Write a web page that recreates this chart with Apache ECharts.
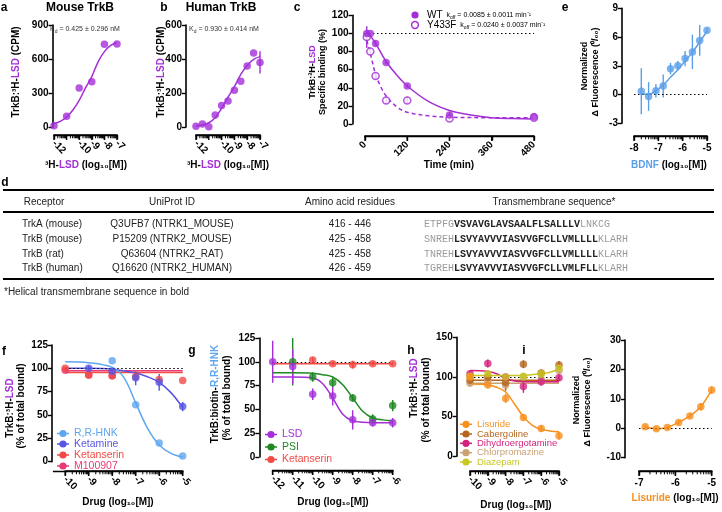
<!DOCTYPE html>
<html>
<head>
<meta charset="utf-8">
<script src="https://cdn.jsdelivr.net/npm/echarts@6/dist/echarts.min.js"></script>
<style>
html, body { margin: 0; padding: 0; background: #fff; }
#wrap { position: relative; width: 722px; height: 512px; }
#main, #axes { position: absolute; left: 0; top: 0; width: 722px; height: 512px; }
#axes { pointer-events: none; }
</style>
</head>
<body>
<div id="wrap"><div id="main"></div><div id="axes"></div></div>
<script>
// ---- data ----
// a: mouse TrkB saturation
var aX = [-12, -11, -10, -9, -8, -7];
var aY = [12, 94, 345, 400, 730, 732];
var aFitX = [-12, -11.5, -11, -10.5, -10, -9.5, -9, -8.5, -8, -7.5, -7];
var aFitY = [30, 50, 88, 150, 235, 345, 445, 575, 665, 720, 745];
// b: human TrkB saturation
var bX = [-12, -11.5, -11, -10.5, -10, -9.5, -9, -8.5, -8, -7.5, -7];
var bY = [4, 18, 2, 70, 126, 153, 216, 269, 359, 435, 380];
var bErr = [0, 0, 0, 0, 0, 0, 0, 0, 0, 0, 65];
var bFitY = [5, 12, 25, 55, 110, 175, 237, 310, 362, 398, 414];
// c: dissociation
var cT = [5, 15, 30, 60, 120, 240, 480];
var cWT = [100, 100, 89, 68, 42, 10, 8];
var cWTErr = [0, 0, 3, 2, 2, 3, 1];
var cMut = [96, 80, 53, 26, 26, 6, 7];
var cMutErr = [12, 4, 4, 4, 4, 2, 1];
var cWTFitT = [10, 30, 60, 90, 120, 180, 240, 300, 360, 420, 480];
var cWTFit = [100, 89, 69, 54, 42, 25, 15, 10, 7, 6, 5.5];
var cMutFitT = [0, 15, 30, 45, 60, 90, 120, 180, 240, 360, 480];
var cMutFit = [100, 78, 55, 41, 31, 19, 13, 9, 7.5, 7, 7];
// e: BDNF fluorescence
var eX = [-7.7, -7.4, -7.1, -6.8, -6.5, -6.2, -5.9, -5.6, -5.3, -5.0];
var eY = [0.35, -0.2, 0.4, 0.9, 2.7, 3.0, 3.75, 4.45, 5.65, 6.7];
var eErr = [2.4, 1.5, 0.7, 1.2, 0.6, 0.5, 0.8, 1.8, 1.6, 0.2];
var eFit = [0.1, 0.0, 0.4, 1.0, 1.8, 2.6, 3.5, 4.4, 5.5, 6.6];
// f: competition vs 3H-LSD
var fHnkX = [-8, -7, -6, -5];
var fHnk = [108, 61, 20, 6];
var fKetX = [-9, -8, -7, -6, -5];
var fKet = [100, 97, 90, 85, 59];
var fKetErr = [3, 3, 8, 9, 5];
var fKtsX = [-10, -9, -8, -7, -6, -5];
var fKts = [100, 93, 92, 91, 88, 87];
var fM1X = [-10, -9, -8];
var fM1 = [98, 93, 92];
var fHnkFitX = [-10, -9, -8, -7.5, -7, -6.5, -6, -5.5, -5];
var fHnkFit = [107, 106, 101, 90, 63, 36, 18, 9, 5];
var fKetFitX = [-10, -9, -8, -7, -6.5, -6, -5.5, -5];
var fKetFit = [100, 100, 99, 95, 91, 85, 74, 58];
var fFlatX = [-10, -5];
var fKtsFit = [95.5, 95.5];
var fM1Fit = [97.5, 97.5];
// g: competition vs biotin-R,R-HNK
var gLsdX = [-12, -11, -10, -9, -8, -7, -6];
var gLsd = [100, 95, 66, 64, 39, 36, 36];
var gLsdErr = [22, 18, 6, 10, 10, 4, 5];
var gPsiX = [-11, -10, -9, -8, -7, -6];
var gPsi = [100, 84, 78, 62, 40, 54];
var gPsiErr = [25, 5, 5, 4, 5, 6];
var gKtsX = [-10, -9, -8, -7, -6];
var gKts = [102, 98, 97, 98, 98];
var gKtsErr = [3, 2, 4, 2, 2];
var gFitX = [-12, -11, -10, -9.5, -9, -8.5, -8, -7.5, -7, -6.5, -6];
var gLsdFit = [84, 84, 83, 77, 62, 45, 38, 36.5, 36, 36, 36];
var gPsiFit = [88.5, 88.5, 88, 86.5, 84, 76, 62, 48, 41, 39, 38];
var gKtsFitX = [-12, -6];
var gKtsFit = [98, 98];
// h: ergolines and others vs 3H-LSD
var hX = [-10, -9, -8, -7, -6, -5];
var hLis = [100, 90, 73, 49, 35, 26];
var hLisErr = [5, 4, 6, 4, 4, 5];
var hCab = [96, 100, 93, 116, 105, 115];
var hCabErr = [4, 4, 10, 5, 4, 5];
var hDhe = [104, 117, 100, 88, 94, 99];
var hDheErr = [4, 5, 4, 8, 5, 4];
var hChl = [92, 95, 90, 100, 97, 108];
var hChlErr = [4, 4, 8, 4, 4, 4];
var hDia = [101, 104, 100, 101, 104, 111];
var hDiaErr = [3, 4, 4, 4, 4, 4];
var hFitX = [-10, -9, -8.5, -8, -7.5, -7, -6.5, -6, -5.5, -5];
var hLisFit = [91, 90, 87, 81, 66, 50, 39, 34, 32, 31];
var hCabFit = [96, 96, 96, 96, 96, 96, 96, 96, 96, 96];
var hDheFit = [108, 107, 104, 98, 95, 94, 94, 94, 94, 94];
var hChlFit = [92, 92, 92, 92, 92, 92, 92, 92, 92, 92];
var hDiaFit = [102, 102, 102, 102, 102, 102, 103, 104, 106, 110];
// i: lisuride fluorescence
var iX = [-6.83, -6.52, -6.22, -5.91, -5.6, -5.3, -5.0];
var iY = [0.5, -0.2, 0.3, 2.0, 4.2, 7.3, 13.0];
var iErr = [0.8, 0.6, 0.5, 0.8, 0.8, 1.3, 1.3];
// d: table
var tblHead = ['Receptor', 'UniProt ID', 'Amino acid residues', 'Transmembrane sequence*'];
var tblReceptor = ['TrkA (mouse)', 'TrkB (mouse)', 'TrkB (rat)', 'TrkB (human)'];
var tblUniprot = ['Q3UFB7 (NTRK1_MOUSE)', 'P15209 (NTRK2_MOUSE)', 'Q63604 (NTRK2_RAT)', 'Q16620 (NTRK2_HUMAN)'];
var tblResidues = ['416 - 446', '425 - 458', '425 - 458', '426 - 459'];
var tblSeqPre = ['ETPFG', 'SNREH', 'TNREH', 'TGREH'];
var tblSeqCore = ['VSVAVGLAVSAALFLSALLLV', 'LSVYAVVVIASVVGFCLLVMLLLL', 'LSVYAVVVIASVVGFCLLVMLLLL', 'LSVYAVVVIASVVGFCLLVMLFLL'];
var tblSeqPost = ['LNKCG', 'KLARH', 'KLARH', 'KLARH'];

// ---- colours ----
var PURPLE = '#a42fd8', BLUE = '#5b9fe9', HNK = '#5ea6f0', KET = '#5656e3', KTS = '#f24a45', M1 = '#e83a78';
var GREEN = '#1f8a22', ORANGE = '#f7901e', CAB = '#b5651d', DHE = '#d3237f', CHL = '#c9a173', DIA = '#c8c824';
var FONT = 'Liberation Sans, Arial, sans-serif';

var chart = echarts.init(document.getElementById('main'), null, {renderer: 'canvas'});
var axesChart = echarts.init(document.getElementById('axes'), null, {renderer: 'canvas'});

function pairs(xs, ys) { return xs.map(function (x, i) { return [x, ys[i]]; }); }
function triples(xs, ys, es) { return xs.map(function (x, i) { return [x, ys[i], es[i]]; }); }
function logMinors(from, to) {
    var out = [];
    for (var d = from; d < to; d++) for (var k = 2; k <= 9; k++) out.push(d + Math.log10(k));
    return out;
}

// grids: [left, top, width, height]
var grids = [
    [54, 25, 63, 102],         // a
    [196, 25, 64, 102],        // b
    [365, 15.3, 169, 108.7],   // c
    [634, 8.3, 73, 115],       // e
    [65.2, 345, 117.5, 116.7], // f
    [272.7, 338, 120, 119],    // g
    [470, 337.3, 89, 119],     // h
    [639, 340, 72.7, 117.7]    // i
];
// x axes: ticks counted from min, min is a multiple of interval
var xCfg = [
    {min: -12, max: -7, interval: 1, minors: logMinors(-12, -7), off: 8, rot: -45, ext: 0},
    {min: -12, max: -7, interval: 1, minors: logMinors(-12, -7), off: 8, rot: -45, ext: 0},
    {min: 0, max: 480, interval: 120, minors: [], off: 12, rot: 45, ext: 0},
    {min: -8, max: -5, interval: 1, minors: logMinors(-8, -5), off: 12.7, rot: 0, ext: 0},
    {min: -10, max: -5, interval: 1, minors: logMinors(-10, -5), off: 9.3, rot: -45, ext: 11.5},
    {min: -12, max: -6, interval: 1, minors: logMinors(-12, -6), off: 13.3, rot: -45, ext: 0},
    {min: -10, max: -5, interval: 1, minors: logMinors(-10, -5), off: 14.7, rot: -45, ext: 0},
    {min: -7, max: -5, interval: 1, minors: logMinors(-7, -5), off: 13.3, rot: 0, ext: 0}
];
var yCfg = [
    {min: 0, max: 900, interval: 300, off: 1.5},
    {min: 0, max: 600, interval: 200, off: 10},
    {min: 0, max: 120, interval: 20, off: 12.5},
    {min: -3, max: 9, interval: 3, off: 12},
    {min: 0, max: 125, interval: 25, off: 13.2},
    {min: 0, max: 125, interval: 25, off: 13.4},
    {min: 0, max: 150, interval: 50, off: 13.3},
    {min: -10, max: 30, interval: 10, off: 14}
];

var gridOpt = [], xAxes = [], yAxes = [];
grids.forEach(function (g, i) {
    gridOpt.push({left: g[0], top: g[1], width: g[2], height: g[3]});
    var c = xCfg[i];
    xAxes.push({
        gridIndex: i, type: 'value', position: 'bottom', min: c.min, max: c.max, interval: c.interval, offset: c.off,
        axisLine: {show: true, onZero: false, lineStyle: {color: '#000', width: 1.6}},
        axisTick: {show: true, length: 4.5, lineStyle: {color: '#000', width: 1.4}},
        axisLabel: {rotate: c.rot, margin: 7, fontSize: 10, fontWeight: 'bold', color: '#000', fontFamily: FONT,
            showMinLabel: true, showMaxLabel: true},
        splitLine: {show: false}
    });
    var y = yCfg[i];
    yAxes.push({
        gridIndex: i, type: 'value', position: 'left', min: y.min, max: y.max, interval: y.interval, offset: y.off,
        axisLine: {show: true, onZero: false, lineStyle: {color: '#000', width: 1.6}},
        axisTick: {show: true, length: 4, lineStyle: {color: '#000', width: 1.4}},
        axisLabel: {margin: 4, fontSize: 10, fontWeight: 'bold', color: '#000', fontFamily: FONT},
        splitLine: {show: false}
    });
});

var series = [];
function scatter(p, data, color, opts) {
    opts = opts || {};
    series.push({
        type: 'scatter', xAxisIndex: p, yAxisIndex: p, data: data, z: 5,
        symbol: 'circle', symbolSize: opts.size || 7.5,
        itemStyle: opts.hollow ? {color: '#fff', borderColor: color, borderWidth: 1.6} : {color: color},
        silent: true
    });
}
function errBars(p, data, color) {
    series.push({
        type: 'custom', xAxisIndex: p, yAxisIndex: p, data: data, z: 3, silent: true,
        renderItem: function (params, api) {
            var x = api.value(0), y = api.value(1), e = api.value(2);
            if (!e) return null;
            var p1 = api.coord([x, y - e]), p2 = api.coord([x, y + e]);
            return {type: 'line', shape: {x1: p1[0], y1: p1[1], x2: p2[0], y2: p2[1]},
                style: {stroke: color, lineWidth: 1.4}};
        }
    });
}
function curve(p, data, color, opts) {
    opts = opts || {};
    var s = {
        type: 'line', xAxisIndex: p, yAxisIndex: p, data: data, z: 4, silent: true,
        smooth: opts.smooth === undefined ? 0.35 : opts.smooth, showSymbol: false,
        lineStyle: {color: color, width: 1.5, type: opts.dash ? [4, 3] : 'solid'}
    };
    if (opts.ref !== undefined) {
        s.markLine = {silent: true, symbol: 'none', label: {show: false},
            lineStyle: {color: '#000', width: 1.2, type: [1.5, 2.5]}, data: [{yAxis: opts.ref}]};
    }
    series.push(s);
}

// a
curve(0, pairs(aFitX, aFitY), PURPLE);
scatter(0, pairs(aX, aY), PURPLE);
// b
curve(1, pairs(bX, bFitY), PURPLE);
errBars(1, triples(bX, bY, bErr), PURPLE);
scatter(1, pairs(bX, bY), PURPLE);
// c
curve(2, pairs(cWTFitT, cWTFit), PURPLE, {ref: 100});
curve(2, pairs(cMutFitT, cMutFit), PURPLE, {dash: true});
errBars(2, triples(cT, cWT, cWTErr), PURPLE);
errBars(2, triples(cT, cMut, cMutErr), PURPLE);
scatter(2, pairs(cT, cMut), PURPLE, {hollow: true, size: 7});
scatter(2, pairs(cT, cWT), PURPLE);
// e
curve(3, pairs(eX, eFit), BLUE, {ref: 0});
errBars(3, triples(eX, eY, eErr), BLUE);
scatter(3, pairs(eX, eY), BLUE);
// f
curve(4, pairs(fFlatX, fM1Fit), M1, {ref: 100, smooth: false});
curve(4, pairs(fFlatX, fKtsFit), KTS, {smooth: false});
curve(4, pairs(fKetFitX, fKetFit), KET);
curve(4, pairs(fHnkFitX, fHnkFit), HNK);
errBars(4, triples(fKetX, fKet, fKetErr), KET);
scatter(4, pairs(fM1X, fM1), M1);
scatter(4, pairs(fKtsX, fKts), KTS);
scatter(4, pairs(fKetX, fKet), KET);
scatter(4, pairs(fHnkX, fHnk), HNK);
// g
curve(5, pairs(gKtsFitX, gKtsFit), KTS, {ref: 100, smooth: false});
curve(5, pairs(gFitX, gPsiFit), GREEN);
curve(5, pairs(gFitX, gLsdFit), PURPLE);
errBars(5, triples(gKtsX, gKts, gKtsErr), KTS);
errBars(5, triples(gPsiX, gPsi, gPsiErr), GREEN);
errBars(5, triples(gLsdX, gLsd, gLsdErr), PURPLE);
scatter(5, pairs(gKtsX, gKts), KTS);
scatter(5, pairs(gPsiX, gPsi), GREEN);
scatter(5, pairs(gLsdX, gLsd), PURPLE);
// h
curve(6, pairs(hFitX, hChlFit), CHL, {ref: 100});
curve(6, pairs(hFitX, hCabFit), CAB);
curve(6, pairs(hFitX, hDheFit), DHE);
curve(6, pairs(hFitX, hDiaFit), DIA);
curve(6, pairs(hFitX, hLisFit), ORANGE);
errBars(6, triples(hX, hChl, hChlErr), CHL);
errBars(6, triples(hX, hCab, hCabErr), CAB);
errBars(6, triples(hX, hDhe, hDheErr), DHE);
errBars(6, triples(hX, hDia, hDiaErr), DIA);
errBars(6, triples(hX, hLis, hLisErr), ORANGE);
scatter(6, pairs(hX, hChl), CHL);
scatter(6, pairs(hX, hCab), CAB);
scatter(6, pairs(hX, hDhe), DHE);
scatter(6, pairs(hX, hDia), DIA);
scatter(6, pairs(hX, hLis), ORANGE);
// i
curve(7, pairs(iX, iY), ORANGE, {ref: 0, smooth: 0.2});
errBars(7, triples(iX, iY, iErr), ORANGE);
scatter(7, pairs(iX, iY), ORANGE);

// ---- text and table ----
var graphics = [];
function richSet(size) {
    var b = {fontSize: size, fontWeight: 'bold', fontFamily: FONT};
    return {
        n: Object.assign({fill: '#000'}, b), p: Object.assign({fill: PURPLE}, b),
        bl: Object.assign({fill: BLUE}, b), hk: Object.assign({fill: HNK}, b),
        o: Object.assign({fill: ORANGE}, b)
    };
}
var R10 = richSet(10), R9 = richSet(9);
function txt(x, y, text, o) {
    o = o || {};
    graphics.push({
        type: 'text', x: x, y: y, rotation: o.rot || 0, silent: true, z: 100,
        style: {
            text: text, fontSize: o.size || 10, fontWeight: o.weight || 'bold', fontFamily: o.font || FONT,
            fill: o.color || '#000', align: o.align || 'center', verticalAlign: 'middle', rich: o.rich
        }
    });
}
function segEl(x1, y1, x2, y2, w, color) {
    return {type: 'line', silent: true, z: 100, shape: {x1: x1, y1: y1, x2: x2, y2: y2},
        style: {stroke: color || '#000', lineWidth: w}};
}
function hline(x1, x2, y, w, color) { graphics.push(segEl(x1, y, x2, y, w, color)); }
function legendItem(x1, x2, y, color, label, size) {
    hline(x1, x2, y, 1.5, color);
    graphics.push({type: 'circle', silent: true, z: 100, shape: {cx: (x1 + x2) / 2, cy: y, r: 3.6}, style: {fill: color}});
    txt(x2 + 5, y, label, {align: 'left', color: color, weight: 'normal', size: size});
}

// x axis lines, major and log-minor ticks on an overlay layer (positions from each axis's scale)
var axisEls = [];
grids.forEach(function (g, i) {
    var c = xCfg[i];
    var yy = Math.round(g[1] + g[3] + c.off) + 0.5;
    var toPx = function (v) { return g[0] + (v - c.min) / (c.max - c.min) * g[2]; };
    axisEls.push(segEl(g[0] - c.ext - 0.8, yy, g[0] + g[2] + 0.8, yy, 1.6));
    for (var v = c.min; v <= c.max + 1e-9; v += c.interval) axisEls.push(segEl(toPx(v), yy, toPx(v), yy + 4.5, 1.4));
    c.minors.forEach(function (m) { axisEls.push(segEl(toPx(m), yy, toPx(m), yy + 2.8, 1)); });
});

// panel letters and titles
[['a', 4, 8], ['b', 164, 8], ['c', 297, 8], ['e', 565, 8], ['d', 5, 183],
 ['f', 4, 352], ['g', 192, 351], ['h', 411, 351], ['i', 524, 351]].forEach(function (l) {
    txt(l[1], l[2], l[0], {size: 12});
});
txt(80, 8, 'Mouse TrkB', {size: 12});
txt(221, 8, 'Human TrkB', {size: 12});
var kdRich = {
    t: {fontSize: 7, fontFamily: FONT, fill: '#333', lineHeight: 10, verticalAlign: 'middle'},
    s: {fontSize: 5, fontFamily: FONT, fill: '#333', lineHeight: 10, verticalAlign: 'bottom'}
};
txt(50, 29, '{t|K}{s|d}{t| = 0.425 ± 0.296 nM}', {align: 'left', rich: kdRich, weight: 'normal'});
txt(189, 29, '{t|K}{s|d}{t| = 0.930 ± 0.414 nM}', {align: 'left', rich: kdRich, weight: 'normal'});

// axis names
var logM = ' (log₁₀[M])';
txt(16, 72, '{n|TrkB:³H-}{p|LSD}{n| (CPM)}', {rot: Math.PI / 2, rich: R10});
txt(86, 165, '{n|³H-}{p|LSD}{n|' + logM + '}', {rich: R10});
txt(161, 72, '{n|TrkB:³H-}{p|LSD}{n| (CPM)}', {rot: Math.PI / 2, rich: R10});
txt(228, 165, '{n|³H-}{p|LSD}{n|' + logM + '}', {rich: R10});
txt(313, 72, '{n|TrkB:³H-}{p|LSD}', {rot: Math.PI / 2, rich: R9});
txt(323, 72, 'Specific binding (%)', {rot: Math.PI / 2, size: 9});
txt(449, 165, 'Time (min)', {size: 10});
// c legend
var koffRich = {
    b: {fontSize: 10, fontFamily: FONT, fill: '#000', lineHeight: 11, verticalAlign: 'middle'},
    t: {fontSize: 7, fontFamily: FONT, fill: '#000', lineHeight: 11, verticalAlign: 'middle'},
    s: {fontSize: 5, fontFamily: FONT, fill: '#000', lineHeight: 11, verticalAlign: 'bottom'}
};
graphics.push({type: 'circle', silent: true, z: 100, shape: {cx: 415, cy: 15, r: 3.6}, style: {fill: PURPLE}});
graphics.push({type: 'circle', silent: true, z: 100, shape: {cx: 415, cy: 25, r: 3.4}, style: {fill: '#fff', stroke: PURPLE, lineWidth: 1.5}});
txt(427, 15, '{b|WT}{t|  k}{s|off}{t| = 0.0085 ± 0.0011 min⁻¹}', {align: 'left', rich: koffRich, weight: 'normal'});
txt(427, 25, '{b|Y433F}{t|  k}{s|off}{t| = 0.0240 ± 0.0037 min⁻¹}', {align: 'left', rich: koffRich, weight: 'normal'});
// e names
txt(585, 66, 'Normalized', {rot: Math.PI / 2, size: 9});
txt(596, 72, 'Δ Fluorescence (⁰/₀₀)', {rot: Math.PI / 2, size: 9});
txt(669, 165, '{bl|BDNF}{n|' + logM + '}', {rich: R10});
// f names
txt(10, 408, '{n|TrkB:³H-}{p|LSD}', {rot: Math.PI / 2, rich: R10});
txt(21, 406, '(% of total bound)', {rot: Math.PI / 2, size: 10});
txt(118, 502, 'Drug' + logM, {size: 10});
// g names
txt(215, 394, '{n|TrkB:biotin-}{hk|R,R-HNK}', {rot: Math.PI / 2, rich: R10});
txt(227, 398, '(% of total bound)', {rot: Math.PI / 2, size: 10});
txt(333, 502, 'Drug' + logM, {size: 10});
// h names
txt(414, 388, '{n|TrkB:³H-}{p|LSD}', {rot: Math.PI / 2, rich: R10});
txt(426, 400, '(% of total bound)', {rot: Math.PI / 2, size: 10});
txt(516, 505, 'Drug' + logM, {size: 10});
// i names
txt(577, 400, 'Normalized', {rot: Math.PI / 2, size: 9});
txt(588, 402, 'Δ Fluorescence (⁰/₀₀)', {rot: Math.PI / 2, size: 9});
txt(675, 498, '{o|Lisuride}{n|' + logM + '}', {rich: R10});

// legends
legendItem(57, 69, 433.5, HNK, 'R,R-HNK', 10.5);
legendItem(57, 69, 444, KET, 'Ketamine', 10.5);
legendItem(57, 69, 455, KTS, 'Ketanserin', 10.5);
legendItem(57, 69, 466, M1, 'M100907', 10.5);
legendItem(265, 277, 434.5, PURPLE, 'LSD', 10.5);
legendItem(265, 277, 447, GREEN, 'PSI', 10.5);
legendItem(265, 277, 459.5, KTS, 'Ketanserin', 10.5);
legendItem(460, 472, 424.3, ORANGE, 'Lisuride', 9.5);
legendItem(460, 472, 434, CAB, 'Cabergoline', 9.5);
legendItem(460, 472, 443.3, DHE, 'Dihydroergotamine', 9.5);
legendItem(460, 472, 452.7, CHL, 'Chlorpromazine', 9.5);
legendItem(460, 472, 462, DIA, 'Diazepam', 9.5);

// table d
hline(3, 714, 190, 2);
hline(3, 714, 212, 2);
hline(3, 714, 279, 2);
var colX = [44, 172, 350, 554];
tblHead.forEach(function (h, k) { txt(colX[k], 202, h, {weight: 'normal', size: 10, color: '#222'}); });
var rowY = [224, 239, 254, 268.7];
var seqRich = {
    g: {fontSize: 10, fontFamily: 'Liberation Mono, monospace', fill: '#9a9a9a'},
    k: {fontSize: 10, fontFamily: 'Liberation Mono, monospace', fontWeight: 'bold', fill: '#222'}
};
rowY.forEach(function (y, r) {
    txt(22, y, tblReceptor[r], {align: 'left', weight: 'normal', size: 10, color: '#222'});
    txt(colX[1], y, tblUniprot[r], {weight: 'normal', size: 10, color: '#222'});
    txt(colX[2], y, tblResidues[r], {weight: 'normal', size: 10, color: '#222'});
    txt(424, y, '{g|' + tblSeqPre[r] + '}{k|' + tblSeqCore[r] + '}{g|' + tblSeqPost[r] + '}',
        {align: 'left', rich: seqRich, weight: 'normal'});
});
txt(4, 292, '*Helical transmembrane sequence in bold', {align: 'left', weight: 'normal', size: 10, color: '#222'});

chart.setOption({
    animation: false,
    grid: gridOpt,
    xAxis: xAxes,
    yAxis: yAxes,
    series: series,
    graphic: {elements: graphics}
});
axesChart.setOption({
    animation: false,
    backgroundColor: 'transparent',
    graphic: {elements: axisEls}
});
</script>
</body>
</html>
